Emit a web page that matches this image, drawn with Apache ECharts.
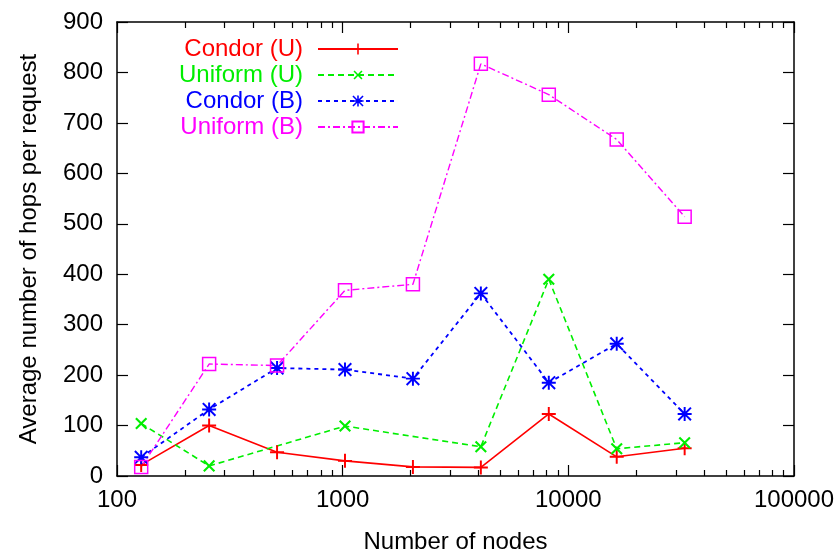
<!DOCTYPE html>
<html>
<head>
<meta charset="utf-8">
<script src="https://cdn.jsdelivr.net/npm/echarts@6/dist/echarts.min.js"></script>
<style>html,body{margin:0;padding:0;background:#fff;}#chart{width:840px;height:554px;}</style>
</head>
<body>
<div id="chart"></div>
<script>
const nodes = [128, 256, 512, 1024, 2048, 4096, 8192, 16384, 32768];
const condorU  = [22, 100, 47, 30, 18, 17, 123, 38, 55];
const uniformU = [104, 20, null, 99, null, 58, 390, 54, 66];
const condorB  = [37, 132, 214, 211, 193, 362, 185, 262, 123];
const uniformB = [18, 222, 219, 368, 380, 817, 756, 667, 514];
const seriesNames = ['Condor (U)', 'Uniform (U)', 'Condor (B)', 'Uniform (B)'];
const xMajorTicks = [100, 1000, 10000, 100000];
const yTicks = [0, 100, 200, 300, 400, 500, 600, 700, 800, 900];

const xMinorTicks = [];
for (let d = 100; d < 100000; d *= 10) for (let k = 2; k <= 9; k++) xMinorTicks.push(d * k);

const FONT = 'Liberation Sans, Arial, sans-serif';
const plusPath = 'path://M4.3,0h1.4v4.3h4.3v1.4h-4.3v4.3h-1.4v-4.3h-4.3v-1.4h4.3z';
const starPath = 'path://M4.3,0h1.4v4.3h4.3v1.4h-4.3v4.3h-1.4v-4.3h-4.3v-1.4h4.3z' +
  'M1.0,0.0L5,4.0L9.0,0.0L10,1.0L6.0,5L10,9.0L9.0,10L5,6.0L1.0,10L0,9.0L4.0,5L0,1.0z';

function pairs(arr) { return nodes.map((n, i) => [n, arr[i]]); }

const colors = ['#ff0000', '#00ee00', '#0000ff', '#ff00ff'];

const chart = echarts.init(document.getElementById('chart'), null, {renderer: 'canvas'});
const gridRect = {left: 117, right: 46, top: 22, bottom: 78, containLabel: false, outerBoundsMode: 'none'};

function xAx(gi, pos, ticks, len, showLabel, showLine) {
  return {
    type: 'log', logBase: 10, min: 100, max: 100000, position: pos, gridIndex: gi,
    axisLine: {show: showLine, onZero: false, lineStyle: {color: '#000', width: 1.5}},
    axisTick: {show: true, inside: true, length: len, customValues: ticks, lineStyle: {color: '#000', width: 1.2}},
    axisLabel: {show: showLabel, customValues: xMajorTicks, color: '#000', fontFamily: FONT, fontSize: 24, margin: 12,
      formatter: v => String(Math.round(v))},
    splitLine: {show: false},
    name: showLabel ? 'Number of nodes' : '',
    nameLocation: 'middle', nameGap: 54,
    nameTextStyle: {color: '#000', fontFamily: FONT, fontSize: 24}
  };
}

const option = {
  backgroundColor: '#fff',
  animation: false,
  grid: [Object.assign({}, gridRect), Object.assign({}, gridRect)],
  legend: {
    orient: 'vertical', left: 174, top: 32, align: 'right',
    itemWidth: 80, itemHeight: 14, itemGap: 2,
    data: seriesNames.map((n, i) => ({name: n, textStyle: {color: colors[i]}})),
    textStyle: {fontFamily: FONT, fontSize: 24, padding: [0, 10, 0, 0]}
  },
  xAxis: [
    xAx(0, 'bottom', xMajorTicks, 11, true, true),
    xAx(0, 'top', xMajorTicks, 11, false, true),
    xAx(1, 'bottom', xMinorTicks, 6, false, false),
    xAx(1, 'top', xMinorTicks, 6, false, false)
  ],
  yAxis: [
    {
      type: 'value', min: 0, max: 900, interval: 100, position: 'left', gridIndex: 0,
      axisLine: {show: true, onZero: false, lineStyle: {color: '#000', width: 1.5}},
      axisTick: {show: true, inside: true, length: 11, lineStyle: {color: '#000', width: 1.2}},
      axisLabel: {color: '#000', fontFamily: FONT, fontSize: 24, margin: 14, customValues: yTicks},
      splitLine: {show: false},
      name: 'Average number of hops per request', nameLocation: 'middle', nameRotate: 90, nameGap: 76,
      nameTextStyle: {color: '#000', fontFamily: FONT, fontSize: 24}
    },
    {
      type: 'value', min: 0, max: 900, interval: 100, position: 'right', gridIndex: 0,
      axisLine: {show: true, onZero: false, lineStyle: {color: '#000', width: 1.5}},
      axisTick: {show: true, inside: true, length: 11, lineStyle: {color: '#000', width: 1.2}},
      axisLabel: {show: false},
      splitLine: {show: false}
    },
    {
      type: 'value', min: 0, max: 900, interval: 100, gridIndex: 1,
      axisLine: {show: false}, axisTick: {show: false}, axisLabel: {show: false}, splitLine: {show: false}
    }
  ],
  series: [
    {
      name: seriesNames[0], type: 'line', data: pairs(condorU), connectNulls: true,
      xAxisIndex: 0, yAxisIndex: 0,
      symbol: plusPath, symbolSize: 14, showAllSymbol: true,
      lineStyle: {color: colors[0], width: 1.6, type: 'solid'},
      itemStyle: {color: colors[0], borderWidth: 0}
    },
    {
      name: seriesNames[1], type: 'line', data: pairs(uniformU), connectNulls: true,
      xAxisIndex: 0, yAxisIndex: 0,
      symbol: plusPath, symbolRotate: 45, symbolSize: 15, showAllSymbol: true,
      lineStyle: {color: colors[1], width: 1.6, type: [6, 4]},
      itemStyle: {color: colors[1], borderWidth: 0}
    },
    {
      name: seriesNames[2], type: 'line', data: pairs(condorB), connectNulls: true,
      xAxisIndex: 0, yAxisIndex: 0,
      symbol: starPath, symbolSize: 14, showAllSymbol: true,
      lineStyle: {color: colors[2], width: 1.8, type: [4, 4]},
      itemStyle: {color: colors[2], borderWidth: 0}
    },
    {
      name: seriesNames[3], type: 'line', data: pairs(uniformB), connectNulls: true,
      xAxisIndex: 0, yAxisIndex: 0,
      symbol: 'rect', symbolSize: 13, showAllSymbol: true,
      lineStyle: {color: colors[3], width: 1.4, type: [7, 3, 2, 3]},
      itemStyle: {color: 'rgba(255,255,255,0)', borderColor: colors[3], borderWidth: 1.5}
    }
  ]
};
chart.setOption(option);
</script>
</body>
</html>
